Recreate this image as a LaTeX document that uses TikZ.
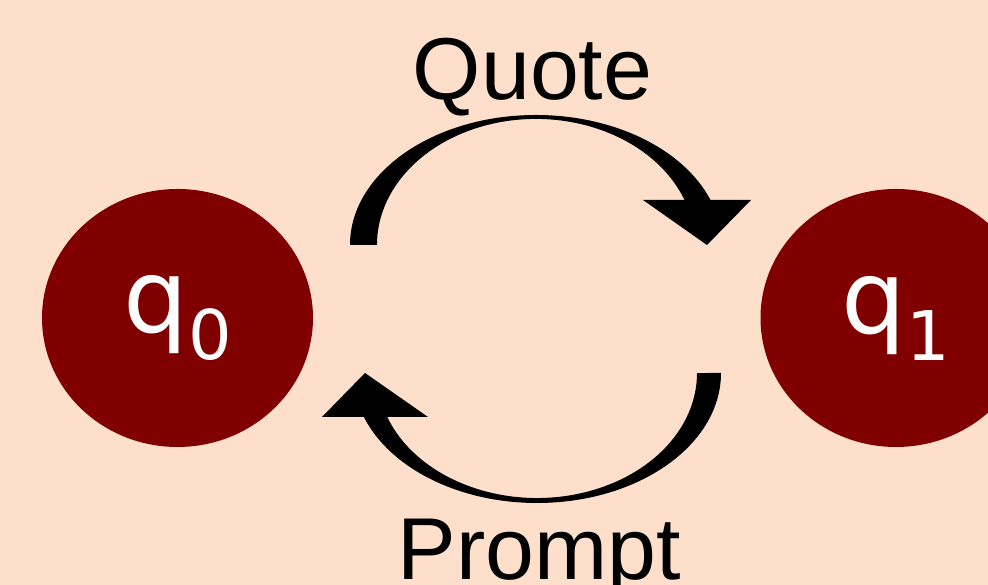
\documentclass[tikz,border=0pt]{standalone}
\usepackage{fontspec}
\setmainfont{Liberation Sans}
\newfontfamily\statefont{DejaVu Sans}
\usetikzlibrary{shapes.geometric}
\definecolor{peach}{RGB}{253,223,203}
\definecolor{maroon}{RGB}{128,0,0}
\newcommand{\statesub}[1]{\raisebox{-0.54cm}{\fontsize{39}{40}\selectfont #1}}
\begin{document}
\begin{tikzpicture}[state/.style={ellipse,fill=maroon,text=white,inner sep=0pt,minimum width=5.42cm,minimum height=5.16cm,font=\statefont\fontsize{58}{60}\selectfont},
		label/.style={anchor=base,inner sep=0pt,font=\fontsize{50}{60}\selectfont}]
		\fill[peach] (0,0) rectangle (19.76,11.7);
		\useasboundingbox (0,0) rectangle (19.76,11.7);
		\clip (0,0) rectangle (19.76,11.7);
		\node (q0) [state] at (3.55,5.34) {q\statesub{0}};
		\node (q1) [state] at (17.92,5.34) {q\statesub{1}};
		\node (quote) [label] at (10.65,9.70) {Quote};
		\node (prompt) [label] at (10.78,0.10) {Prompt};
		% q0 to q1
		\fill (7.00,6.80) arc[start angle=180,end angle=20.3,x radius=3.72,y radius=2.60] -- (13.69,7.70) arc[start angle=20.9,end angle=180,x radius=3.18,y radius=2.52] -- cycle;
		\fill (12.86,7.70) -- (15.02,7.70) -- (14.14,6.80) -- cycle;
		% q1 to q0
		\fill (14.42,4.24) arc[start angle=0,end angle=-160.2,x radius=3.68,y radius=2.60] -- (7.745,3.36) arc[start angle=-159.4,end angle=0,x radius=3.20,y radius=2.50] -- cycle;
		\fill (6.44,3.36) -- (8.56,3.36) -- (7.30,4.24) -- cycle;
	\end{tikzpicture}
\end{document}
